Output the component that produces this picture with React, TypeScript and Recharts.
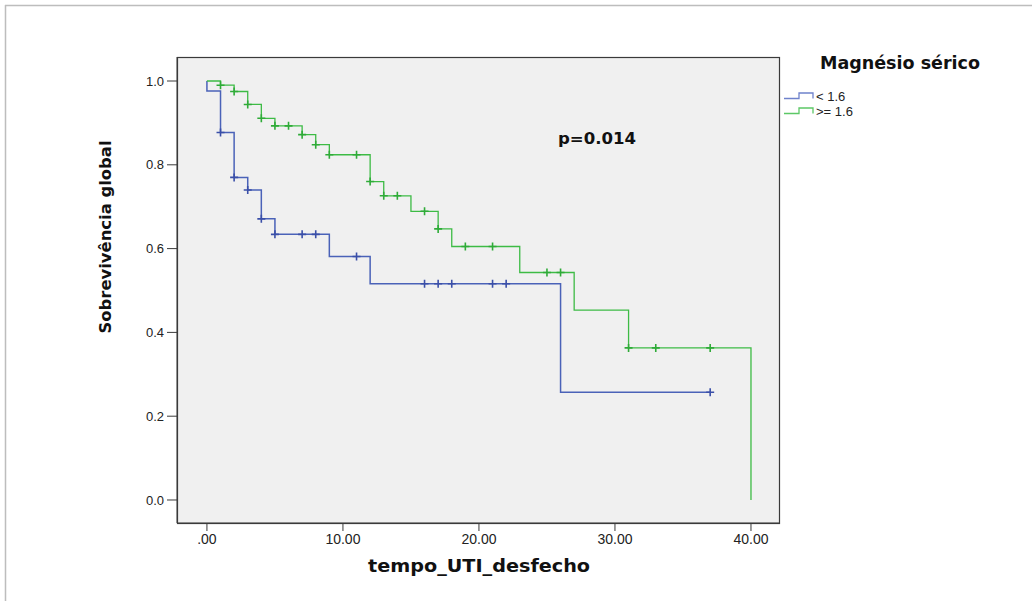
import React from 'react';
import { ComposedChart, Line, Scatter, XAxis, YAxis, CartesianGrid } from 'recharts';

// Kaplan-Meier curve "< 1.6" (event times and survival after each step)
const blueTimes = [0, 0, 1, 2, 3, 4, 5, 9, 12, 26, 37];
const blueSurv = [1.0, 0.976, 0.877, 0.77, 0.74, 0.671, 0.634, 0.581, 0.516, 0.257, 0.257];
const blueCensorTimes = [1, 2, 3, 4, 5, 7, 8, 11, 16, 17, 18, 21, 22, 37];
const blueCensorSurv = [0.877, 0.77, 0.74, 0.671, 0.634, 0.634, 0.634, 0.581, 0.516, 0.516, 0.516, 0.516, 0.516, 0.257];

// Kaplan-Meier curve ">= 1.6"
const greenTimes = [0, 1, 2, 3, 4, 5, 7, 8, 9, 12, 13, 15, 17, 18, 23, 27, 31, 40];
const greenSurv = [1.0, 0.99, 0.975, 0.944, 0.911, 0.893, 0.872, 0.848, 0.824, 0.76, 0.726, 0.689, 0.647, 0.605, 0.543, 0.453, 0.363, 0.0];
const greenCensorTimes = [1, 2, 3, 4, 5, 6, 7, 8, 9, 11, 12, 13, 14, 16, 17, 19, 21, 25, 26, 31, 33, 37];
const greenCensorSurv = [0.99, 0.975, 0.944, 0.911, 0.893, 0.893, 0.872, 0.848, 0.824, 0.824, 0.76, 0.726, 0.726, 0.689, 0.647, 0.605, 0.605, 0.543, 0.543, 0.363, 0.363, 0.363];

const xTicks = [0, 10, 20, 30, 40];
const yTicks = [0, 0.2, 0.4, 0.6, 0.8, 1.0];
const legendTitle = 'Magnésio sérico';
const legendLabels = ['< 1.6', '>= 1.6'];
const xTitle = 'tempo_UTI_desfecho';
const yTitle = 'Sobrevivência global';
const pText = 'p=0.014';

const BLUE = '#4a62b8';
const GREEN = '#3dbb45';

const zip = (t: number[], s: number[]) => t.map((v, i) => ({ t: v, s: s[i] }));
const blueLine = zip(blueTimes, blueSurv);
const greenLine = zip(greenTimes, greenSurv);
const blueCensor = zip(blueCensorTimes, blueCensorSurv);
const greenCensor = zip(greenCensorTimes, greenCensorSurv);

const makeCross = (color: string) => (props: any) => {
  const { cx, cy } = props;
  if (cx == null || cy == null) return <g />;
  return (
    <path
      d={`M${cx - 4},${cy}H${cx + 4}M${cx},${cy - 4}V${cy + 4}`}
      stroke={color}
      strokeWidth={1.6}
      fill="none"
    />
  );
};

const fmtX = (v: number) => (v === 0 ? '.00' : v.toFixed(2));
const fmtY = (v: number) => v.toFixed(1);

export default function App() {
  return (
    <div style={{ position: 'absolute', left: 0, top: 0, width: 1032, height: 601, background: '#ffffff' }}>
      <ComposedChart width={1032} height={601} margin={{ top: 57, right: 253, bottom: 0, left: 0 }}>
        <CartesianGrid horizontal={false} vertical={false} fill="#f0f0f0" />
        <XAxis
          dataKey="t"
          type="number"
          domain={[-2.2, 42.06]}
          allowDataOverflow
          ticks={xTicks}
          tickFormatter={fmtX}
          height={78}
          tickSize={8}
          tickMargin={3}
          stroke="#3a3a3a"
          tick={{ fill: '#222', fontSize: 14, fontFamily: 'Liberation Sans, Arial, sans-serif' }}
        />
        <YAxis
          type="number"
          domain={[-0.0549, 1.0573]}
          allowDataOverflow
          ticks={yTicks}
          tickFormatter={fmtY}
          width={177}
          tickSize={10}
          tickMargin={3}
          stroke="#3a3a3a"
          tick={{ fill: '#222', fontSize: 13, fontFamily: 'Liberation Sans, Arial, sans-serif' }}
        />
        <Line data={blueLine} dataKey="s" type="stepAfter" stroke={BLUE} strokeWidth={1.5} dot={false} isAnimationActive={false} />
        <Line data={greenLine} dataKey="s" type="stepAfter" stroke={GREEN} strokeWidth={1.3} dot={false} isAnimationActive={false} />
        <Scatter data={blueCensor} dataKey="s" shape={makeCross('#3a4fa8')} isAnimationActive={false} />
        <Scatter data={greenCensor} dataKey="s" shape={makeCross('#2fab38')} isAnimationActive={false} />
      </ComposedChart>
      <svg
        width={1032}
        height={601}
        style={{ position: 'absolute', left: 0, top: 0, pointerEvents: 'none' }}
      >
        <line x1={5.5} y1={5} x2={5.5} y2={601} stroke="#bdbdbd" strokeWidth={1.5} />
        <line x1={5} y1={5.5} x2={1032} y2={5.5} stroke="#bdbdbd" strokeWidth={1.5} />
        <rect x={177.5} y={57.5} width={602} height={466} fill="none" stroke="#3a3a3a" strokeWidth={1.2} />
        <text
          transform="translate(105,237) rotate(-90)"
          textAnchor="middle"
          dominantBaseline="central"
          fontFamily="DejaVu Sans, sans-serif"
          fontWeight="bold"
          fontSize={16}
          fill="#111"
          textLength={193}
          lengthAdjust="spacingAndGlyphs"
        >
          {yTitle}
        </text>
        <text
          x={479}
          y={572}
          textAnchor="middle"
          fontFamily="DejaVu Sans, sans-serif"
          fontWeight="bold"
          fontSize={18}
          fill="#111"
          textLength={222}
          lengthAdjust="spacingAndGlyphs"
        >
          {xTitle}
        </text>
        <text
          x={558}
          y={144}
          fontFamily="DejaVu Sans, sans-serif"
          fontWeight="bold"
          fontSize={16}
          fill="#111"
          textLength={78}
          lengthAdjust="spacingAndGlyphs"
        >
          {pText}
        </text>
        <text
          x={820}
          y={69}
          fontFamily="DejaVu Sans, sans-serif"
          fontWeight="bold"
          fontSize={17}
          fill="#111"
          textLength={160}
          lengthAdjust="spacingAndGlyphs"
        >
          {legendTitle}
        </text>
        {legendLabels.map((lab, i) => {
          const cy = 96 + i * 15;
          const c = i === 0 ? '#6f82cc' : '#5cc866';
          return (
            <g key={lab}>
              <path d={`M784,${cy + 2.5}H799V${cy - 3}H813V${cy + 2.5}`} stroke={c} strokeWidth={1.3} fill="none" />
              <text x={816} y={cy + 4.5} fontFamily="Liberation Sans, Arial, sans-serif" fontSize={13} fill="#222">
                {lab}
              </text>
            </g>
          );
        })}
      </svg>
    </div>
  );
}
